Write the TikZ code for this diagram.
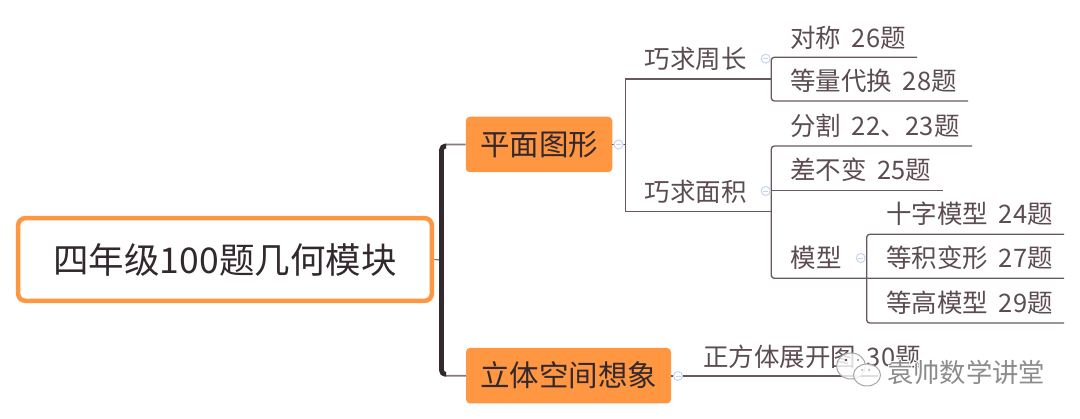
\documentclass[tikz,border=0pt]{standalone}
\usepackage{fontspec}
\usetikzlibrary{shapes.geometric}
\setmainfont{Noto Sans CJK SC}
\newcommand{\tgap}{\hspace{.42em}}
\definecolor{orangeb}{HTML}{FF9642}
\definecolor{darkt}{HTML}{32282E}
\definecolor{topict}{HTML}{5C4C50}
\definecolor{linec}{HTML}{65595F}
\definecolor{collapse}{HTML}{C6D4EE}
\tikzset{
  rootbox/.style={draw=orangeb,line width=4.5pt,rounded corners=7pt,fill=white,minimum width=413.6pt,minimum height=82.6pt,inner sep=0pt,text=darkt,font=\fontsize{35.5}{40}\selectfont},
  branchbox/.style={fill=orangeb,rounded corners=4pt,minimum height=55.5pt,inner sep=0pt,text=darkt,font=\fontsize{29.5}{34}\selectfont},
  topic/.style={anchor=base west,inner sep=0pt,yshift=-9.7pt,text=topict,font=\fontsize{25.5}{30}\selectfont},
  thinline/.style={draw=linec,line width=1.3pt},
  collapsed/.style={circle,draw=collapse,fill=white,line width=1pt,minimum size=9pt,inner sep=0pt,
    path picture={\draw[collapse,line width=.8pt] ([xshift=-2.5pt]path picture bounding box.center) -- ([xshift=2.5pt]path picture bounding box.center);}},
  wmark/.style={inner sep=0pt,font=\fontsize{26.3}{30}\selectfont},
  bubble/.style={ellipse,draw=black!35,fill=white,fill opacity=.8,line width=1pt,inner sep=0pt},
}
\begin{document}
\begin{tikzpicture}[x=1pt,y=-1pt]
\useasboundingbox (0,0) rectangle (1080,419);
% nodes
\node[rootbox] (root) at (225,259.5) {四年级100题几何模块};
\node[branchbox,minimum width=146.5pt] (plane) at (539,144.5) {平面图形};
\node[branchbox,minimum width=205pt] (solid) at (568.5,375.7) {立体空间想象};
% spine
\coordinate (jroot) at (441.5,260);
\coordinate (s1) at (441.5,144.5);
\coordinate (s2) at (441.5,375.7);
\draw[draw=linec!80,line width=1.3pt] (root.east) -- (jroot);
\draw[draw=linec!80,line width=1.8pt,rounded corners=5pt] (plane.west) -- (s1) -- (s2) -- (solid.west);
\draw[draw=darkt,line width=4.8pt,rounded corners=4pt] (446,146) -- (441.5,146) -- (441.5,374.3) -- (446,374.3);
% topic coordinates
\coordinate (v0t) at (625.5,79);
\coordinate (v0b) at (625.5,211.7);
\coordinate (t1e) at (771.3,79);
\coordinate (t2e) at (771.3,211.7);
\coordinate (a1) at (771.3,57.3);
\coordinate (a1e) at (917,57.3);
\coordinate (a2) at (771.3,101);
\coordinate (a2e) at (968,101);
\coordinate (b1) at (771.3,146);
\coordinate (b1e) at (972,146);
\coordinate (b2) at (771.3,190.3);
\coordinate (b2e) at (943,190.3);
\coordinate (b3) at (771.3,278.3);
\coordinate (c1) at (866.7,234.3);
\coordinate (c1e) at (1064,234.3);
\coordinate (c2) at (866.7,278.3);
\coordinate (c2e) at (1064,278.3);
\coordinate (c3) at (866.7,323);
\coordinate (c3e) at (1064,323);
\coordinate (d1e) at (878,376);
% connectors
\draw[thinline] (plane.east) -- (v0t |- plane.east);
\draw[thinline] (t1e) -- (v0t) -- (v0b) -- (t2e);
\draw[thinline,rounded corners=3pt] (a1e) -- (a1) -- (a2) -- (a2e);
\draw[thinline,rounded corners=3pt] (b1e) -- (b1) -- (b3) -- (c2e);
\draw[thinline] (b2) -- (b2e);
\draw[thinline,rounded corners=3pt] (c1e) -- (c1) -- (c3) -- (c3e);
\draw[thinline] (solid.east |- d1e) -- (d1e);
% collapse marks
\node[collapsed] (m0) at (618.5,144.5) {};
\node[collapsed] (m1) at (765.7,58.7) {};
\node[collapsed] (m2) at (765.7,191) {};
\node[collapsed] (m3) at (860.7,258) {};
\node[collapsed] (m4) at (678,376) {};
% labels
\node[topic] (l1) at (644.5,59) {巧求周长};
\node[topic] (l2) at (644.5,192) {巧求面积};
\node[topic] (l3) at (790,38) {对称\tgap 26题};
\node[topic] (l4) at (790,81) {等量代换\tgap 28题};
\node[topic] (l5) at (790,126) {分割\tgap 22、23题};
\node[topic] (l6) at (790,170) {差不变\tgap 25题};
\node[topic] (l7) at (790.5,258) {模型};
\node[topic] (l8) at (886,214) {十字模型\tgap 24题};
\node[topic] (l9) at (886,258) {等积变形\tgap 27题};
\node[topic] (l10) at (886,303) {等高模型\tgap 29题};
\node[topic] (l11) at (703,357) {正方体展开图\tgap 30题};
% watermark
\node[bubble,minimum width=29pt,minimum height=26pt] (w1) at (851,366) {};
\node[bubble,minimum width=27pt,minimum height=22pt] (w2) at (867,375) {};
\fill[black!70] (846,360) circle (1.4pt);
\fill[black!45] (858,360) circle (1.2pt);
\fill[black!35] (862,370) circle (1pt);
\fill[black!35] (869,370) circle (1pt);
\foreach \dx/\dy in {-1/0,1/0,0/-1,0/1,1/1,-1/-1}
  \node[wmark,anchor=west,white] at (887+\dx,372+\dy) {袁帅数学讲堂};
\node[wmark,anchor=west,text=black!45] (w) at (887,372) {袁帅数学讲堂};
\end{tikzpicture}
\end{document}
